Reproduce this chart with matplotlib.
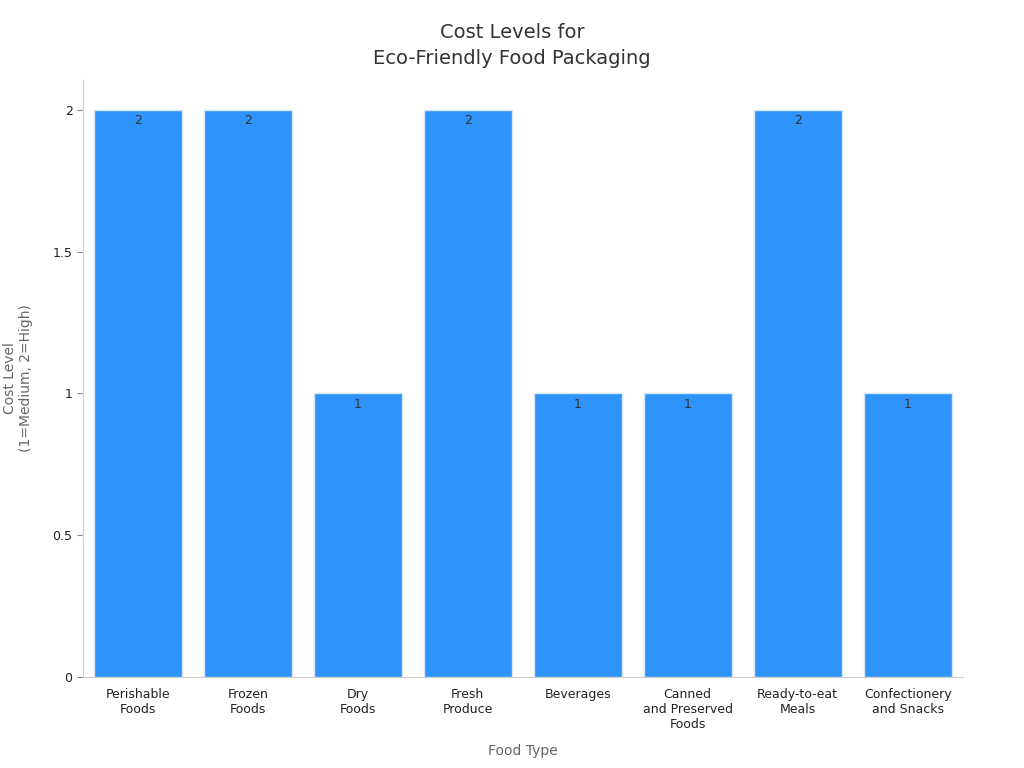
import matplotlib.pyplot as plt

categories = ["Perishable\nFoods", "Frozen\nFoods", "Dry\nFoods", "Fresh\nProduce",
              "Beverages", "Canned\nand Preserved\nFoods", "Ready-to-eat\nMeals",
              "Confectionery\nand Snacks"]
cost_levels = [2, 2, 1, 2, 1, 1, 2, 1]
ytick_vals = [0, 0.5, 1, 1.5, 2]
ytick_labels = ["0", "0.5", "1", "1.5", "2"]

fig = plt.figure(figsize=(10.24, 7.68), dpi=100)
ax = fig.add_axes([0.081, 0.1185, 0.859, 0.7775])

x = range(len(categories))
bars = ax.bar(x, cost_levels, width=0.8, color="#2e93fa", edgecolor="#d6e6f5", linewidth=1)
for b, v in zip(bars, cost_levels):
	ax.text(b.get_x() + b.get_width() / 2, v - 0.015, str(v), ha="center", va="top",
	        fontsize=9, color="#333333")

ax.set_xlim(-0.5, 7.5)
ax.set_ylim(0, 2.106)
ax.set_xticks(list(x))
ax.set_xticklabels(categories, fontsize=9, color="#222222")
ax.set_yticks(ytick_vals)
ax.set_yticklabels(ytick_labels, fontsize=9, color="#222222")
ax.tick_params(axis="x", length=0, pad=8)
ax.tick_params(axis="y", length=4, color="#888888")
for s in ["top", "right"]:
	ax.spines[s].set_visible(False)
for s in ["left", "bottom"]:
	ax.spines[s].set_color("#cccccc")

ax.set_xlabel("Food Type", fontsize=10, color="#666666", labelpad=9)
ax.set_ylabel("Cost Level\n(1=Medium, 2=High)", fontsize=10, color="#666666", labelpad=14)
fig.suptitle("Cost Levels for\nEco-Friendly Food Packaging", fontsize=14, color="#333333",
             y=0.97, linespacing=1.45)

fig.savefig("out.png", dpi=100)
